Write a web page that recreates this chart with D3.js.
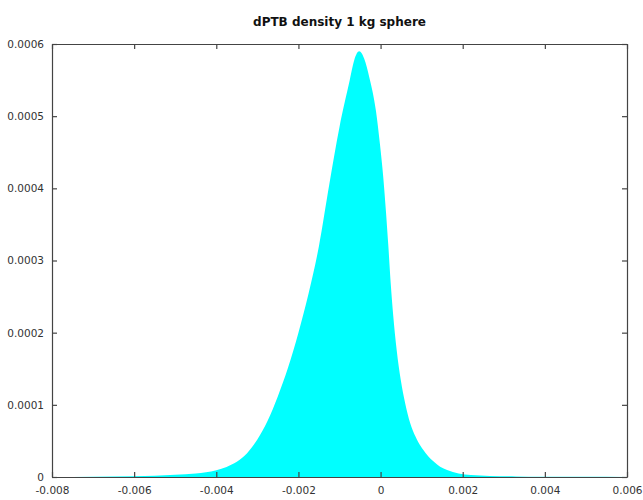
<!DOCTYPE html>
<html><head><meta charset="utf-8">
<script src="https://cdn.jsdelivr.net/npm/d3@7"></script>
<style>
html,body{margin:0;padding:0;background:#fff;}
svg text{font-family:"DejaVu Sans",Verdana,sans-serif;}
</style></head>
<body><svg id="c" width="643" height="500"></svg>
<script>
const title = "dPTB density 1 kg sphere";
const xValues = [-0.0080,-0.0070,-0.0060,-0.0055,-0.0050,-0.0045,-0.0040,-0.00375,-0.0035,-0.00325,-0.0030,-0.00275,-0.0025,-0.00225,-0.0020,-0.00175,-0.0015,-0.00125,-0.0010,-0.00075,-0.00064,-0.00052,-0.00040,-0.000275,-0.000112,-0.000015,0.000066,0.000131,0.000187,0.000246,0.000309,0.000392,0.00049,0.00060,0.00072,0.00085,0.00110,0.00132,0.00145,0.00162,0.00190,0.0022,0.00266,0.0033,0.0039,0.0050,0.0060];
const density = [0.0000001,0.0000004,0.0000011,0.0000018,0.0000030,0.0000050,0.0000095,0.0000140,0.0000210,0.0000330,0.0000520,0.0000780,0.000112,0.000152,0.000200,0.000255,0.000320,0.000405,0.000485,0.000550,0.000578,0.000590,0.000580,0.000554,0.000507,0.000461,0.000415,0.000368,0.000322,0.000269,0.000223,0.000176,0.000135,0.000102,0.000075,0.000056,0.000033,0.000020,0.0000143,0.0000097,0.0000050,0.0000028,0.0000015,0.0000008,0.0000005,0.0000002,0.0000001];
const xTicks = [-0.008,-0.006,-0.004,-0.002,0,0.002,0.004,0.006];
const xTickLabels = ["-0.008","-0.006","-0.004","-0.002","0","0.002","0.004","0.006"];
const yTicks = [0,0.0001,0.0002,0.0003,0.0004,0.0005,0.0006];
const yTickLabels = ["0","0.0001","0.0002","0.0003","0.0004","0.0005","0.0006"];

const svg = d3.select("#c");
const L = 52, R = 627, T = 44, B = 477;
const x = d3.scaleLinear().domain([-0.008, 0.006]).range([L, R]);
const y = d3.scaleLinear().domain([0, 0.0006]).range([B, T]);

const data = xValues.map((v,i)=>({x:v,y:density[i]}));
const area = d3.area().x(d=>x(d.x)).y0(y(0)).y1(d=>y(d.y)).curve(d3.curveMonotoneX);
svg.append("path").datum(data).attr("d", area).attr("fill", "#00ffff");

const axisColor = "#444";
const tickLen = 5;
const gB = svg.append("g").attr("transform", `translate(0,${B})`)
  .call(d3.axisBottom(x).tickValues(xTicks).tickFormat((d,i)=>xTickLabels[i]).tickSizeInner(-tickLen).tickSizeOuter(0).tickPadding(10));
const gT = svg.append("g").attr("transform", `translate(0,${T})`)
  .call(d3.axisTop(x).tickValues(xTicks).tickFormat("").tickSizeInner(-tickLen).tickSizeOuter(0));
const gL = svg.append("g").attr("transform", `translate(${L},0)`)
  .call(d3.axisLeft(y).tickValues(yTicks).tickFormat((d,i)=>yTickLabels[i]).tickSizeInner(-tickLen).tickSizeOuter(0).tickPadding(8));
const gR = svg.append("g").attr("transform", `translate(${R},0)`)
  .call(d3.axisRight(y).tickValues(yTicks).tickFormat("").tickSizeInner(-tickLen).tickSizeOuter(0));
[gB,gT,gL,gR].forEach(g=>{
  g.selectAll("path.domain").attr("stroke", axisColor).attr("stroke-width", 1.2);
  g.selectAll(".tick line").attr("stroke", axisColor).attr("stroke-width", 1.2);
  g.selectAll("text").attr("fill", "#333").attr("font-size", "10.5px").attr("font-family", '"DejaVu Sans",Verdana,sans-serif');
});
gB.selectAll("text").attr("dy", "0.71em");

svg.append("text").attr("x", (L+R)/2).attr("y", 26).attr("text-anchor", "middle")
  .attr("font-size", "12px").attr("font-weight", "bold").attr("fill", "#111").text(title);
</script></body></html>
